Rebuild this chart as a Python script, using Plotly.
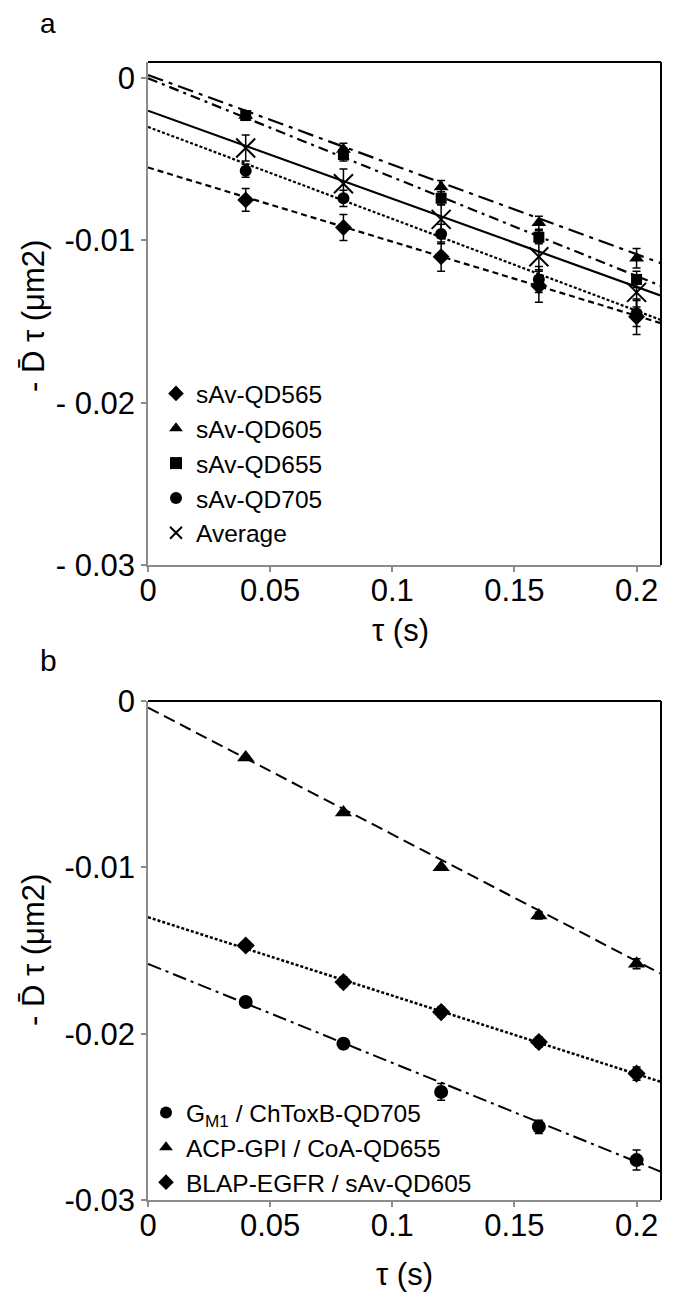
import plotly.graph_objects as go

# ---------------- data ----------------
tau = [0.04, 0.08, 0.12, 0.16, 0.20]
fit_x = [0.0, 0.21]

# panel a
a_names = ["sAv-QD565", "sAv-QD605", "sAv-QD655", "sAv-QD705", "Average"]
a_qd565 = [-0.0075, -0.0092, -0.0110, -0.0128, -0.0147]
a_qd605 = [-0.0023, -0.0044, -0.0067, -0.0089, -0.0111]
a_qd655 = [-0.0023, -0.0047, -0.0074, -0.0098, -0.0124]
a_qd705 = [-0.0057, -0.0074, -0.0096, -0.0124, -0.0145]
a_avg = [-0.0043, -0.0065, -0.0087, -0.0110, -0.0132]
a_err565 = [0.0007, 0.0008, 0.0009, 0.0010, 0.0011]
a_err605 = [0.0002, 0.0004, 0.0004, 0.0004, 0.0006]
a_err655 = [0.0002, 0.0004, 0.0004, 0.0004, 0.0005]
a_err705 = [0.0004, 0.0005, 0.0006, 0.0008, 0.0008]
a_erravg = [0.0008, 0.0009, 0.0009, 0.0009, 0.0009]
a_fit565 = [-0.0055, -0.0151]
a_fit605 = [0.0002, -0.0114]
a_fit655 = [0.0000, -0.0128]
a_fit705 = [-0.0030, -0.0149]
a_fitavg = [-0.0020, -0.0134]

# panel b
b_names = ["G<sub>M1</sub> / ChToxB-QD705", "ACP-GPI / CoA-QD655", "BLAP-EGFR / sAv-QD605"]
b_gm1 = [-0.0181, -0.0206, -0.0235, -0.0256, -0.0276]
b_acp = [-0.0034, -0.0067, -0.0100, -0.0129, -0.0158]
b_blap = [-0.0147, -0.0169, -0.0187, -0.0205, -0.0224]
b_errgm1 = [0.0002, 0.0003, 0.0005, 0.0004, 0.0006]
b_erracp = [0.0001, 0.0001, 0.0001, 0.0002, 0.0003]
b_errblap = [0.0002, 0.0003, 0.0003, 0.0003, 0.0004]
b_fitgm1 = [-0.0158, -0.0283]
b_fitacp = [-0.0004, -0.0164]
b_fitblap = [-0.0130, -0.0229]

x_tickvals = [0, 0.05, 0.1, 0.15, 0.2]
x_ticktext = ["0", "0.05", "0.1", "0.15", "0.2"]
y_tickvals = [-0.03, -0.02, -0.01, 0]
a_yticktext = ["- 0.03", "- 0.02", "-0.01", "0"]
b_yticktext = ["-0.03", "-0.02", "-0.01", "0"]

# ---------------- figure ----------------
FONT = "Liberation Sans, Arial, sans-serif"
fig = go.Figure()


def add_line(xa, ya, yvals, dash, width=2):
    fig.add_trace(go.Scatter(x=fit_x, y=yvals, mode="lines", xaxis=xa, yaxis=ya,
                             line=dict(color="black", width=width, dash=dash),
                             showlegend=False, hoverinfo="skip"))


def add_pts(xa, ya, yvals, err, name, symbol, size, legend, lw=0):
    fig.add_trace(go.Scatter(x=tau, y=yvals, mode="markers", xaxis=xa, yaxis=ya, name=name,
                             legend=legend,
                             marker=dict(color="black", symbol=symbol, size=size,
                                         line=dict(color="black", width=lw)),
                             error_y=dict(type="data", array=err, color="black",
                                          thickness=1.5, width=4)))

# panel a lines
add_line("x", "y", a_fit565, "6px,4px", 2.2)
add_line("x", "y", a_fit605, "16px,6px,4px,6px", 2.2)
add_line("x", "y", a_fit655, "10px,5px,3px,5px", 2.2)
add_line("x", "y", a_fit705, "3px,2px", 2.2)
add_line("x", "y", a_fitavg, "solid", 2.2)
# panel a points
add_pts("x", "y", a_qd565, a_err565, a_names[0], "diamond", 13, "legend")
add_pts("x", "y", a_qd605, a_err605, a_names[1], "triangle-up", 13, "legend")
add_pts("x", "y", a_qd655, a_err655, a_names[2], "square", 11, "legend")
add_pts("x", "y", a_qd705, a_err705, a_names[3], "circle", 12, "legend")
add_pts("x", "y", a_avg, a_erravg, a_names[4], "x-thin", 19, "legend", lw=2)

# panel b lines
add_line("x2", "y2", b_fitgm1, "14px,5px,3px,5px")
add_line("x2", "y2", b_fitacp, "12px,6px")
add_line("x2", "y2", b_fitblap, "3px,2px", 2.5)
# panel b points
add_pts("x2", "y2", b_gm1, b_errgm1, b_names[0], "circle", 14, "legend2")
add_pts("x2", "y2", b_acp, b_erracp, b_names[1], "triangle-up", 15, "legend2")
add_pts("x2", "y2", b_blap, b_errblap, b_names[2], "diamond", 14, "legend2")

# page body has an 8px margin: work in page pixels, shift by OFF
OFF = 8
FW, FH = 677 - OFF, 1301 - OFF
# plot area in page pixels: x 148..661, y 62..1200
PL, PR, PT, PB = 148, 661, 62, 1200
L, T = PL - OFF, PT - OFF
R, B = FW - (PR - OFF), FH - (PB - OFF)
W = PR - PL
H = PB - PT


def py(ypix):  # page pixel -> plot-area paper fraction
    return (PB - ypix) / H


def px(xpix):
    return (xpix - PL) / W

axis_common = dict(showgrid=False, zeroline=False, showline=True, linecolor="#8c8c8c",
                   linewidth=1.5, ticks="outside", tickcolor="#8c8c8c", ticklen=5,
                   tickwidth=1.5, tickfont=dict(family=FONT, size=31, color="black"))

LEGFONT = dict(family=FONT, size=24.5, color="black")
fig.update_layout(
    width=FW, height=FH, autosize=False,
    margin=dict(l=L, r=R, t=T, b=B),
    paper_bgcolor="white", plot_bgcolor="white",
    font=dict(family=FONT, color="black"),
    xaxis=dict(domain=[0, 1], anchor="y", range=[0, 0.21], tickvals=x_tickvals,
               ticktext=x_ticktext, ticklabelstandoff=-8, **axis_common),
    yaxis=dict(domain=[py(565), 1], anchor="x", range=[-0.03, 0.001], tickvals=y_tickvals,
               ticktext=a_yticktext, ticklabelstandoff=0, **axis_common),
    xaxis2=dict(domain=[0, 1], anchor="y2", range=[0, 0.21], tickvals=x_tickvals,
                ticktext=x_ticktext, ticklabelstandoff=-8, **axis_common),
    yaxis2=dict(domain=[0, py(701)], anchor="x2", range=[-0.03, 0], tickvals=y_tickvals,
                ticktext=b_yticktext, ticklabelstandoff=0, **axis_common),
    legend=dict(x=px(156), y=py(371), xanchor="left", yanchor="top",
                font=LEGFONT, bgcolor="rgba(0,0,0,0)",
                itemsizing="constant", tracegroupgap=0, itemwidth=30),
    legend2=dict(x=px(146), y=py(1090), xanchor="left", yanchor="top",
                 font=LEGFONT, bgcolor="rgba(0,0,0,0)",
                 itemsizing="constant", tracegroupgap=0, itemwidth=30),
)

# black top/right frame
for xr, yr in [("x domain", "y domain"), ("x2 domain", "y2 domain")]:
    fig.add_shape(type="line", xref=xr, yref=yr, x0=0, x1=1, y0=1, y1=1,
                  line=dict(color="black", width=2))
    fig.add_shape(type="line", xref=xr, yref=yr, x0=1, x1=1, y0=0, y1=1,
                  line=dict(color="black", width=2))

ytitle = "- D\u0304 \u03c4 (\u03bcm2)"
annots = [
    dict(text="a", px=48, py=24, size=28),
    dict(text="b", px=48, py=660, size=30),
    dict(text="\u03c4 (s)", px=400, py=630, size=31),
    dict(text="\u03c4 (s)", px=404, py=1274, size=31),
    dict(text=ytitle, px=33, py=316, size=31, textangle=-90),
    dict(text=ytitle, px=33, py=950, size=31, textangle=-90),
]
for a in annots:
    fig.add_annotation(xref="paper", yref="paper", showarrow=False,
                       xanchor="center", yanchor="middle",
                       x=px(a["px"]), y=py(a["py"]), text=a["text"],
                       textangle=a.get("textangle", 0),
                       font=dict(family=FONT, size=a["size"], color="black"))

fig.write_html("out.html")
